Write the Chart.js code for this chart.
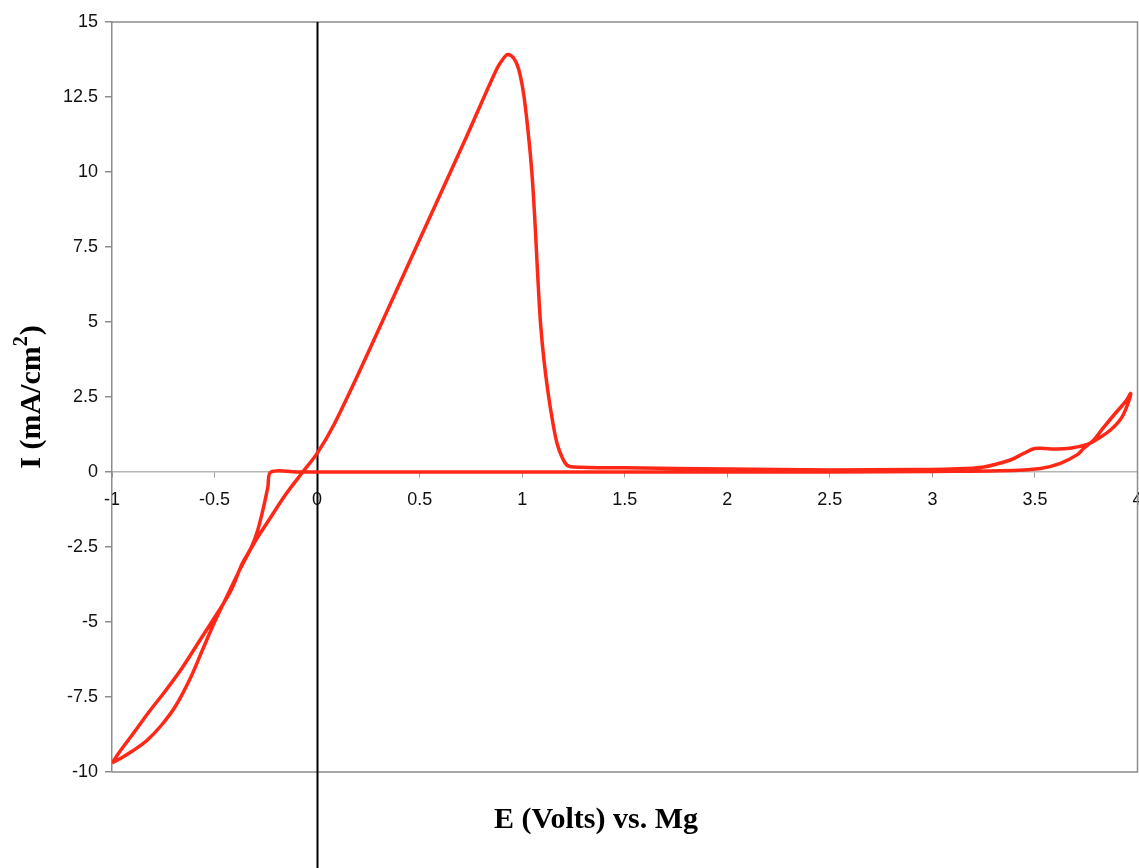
<!DOCTYPE html>
<html>
<head>
<meta charset="utf-8">
<script src="https://cdn.jsdelivr.net/npm/chart.js@4.4.1/dist/chart.umd.min.js"></script>
<style>
  html, body { margin: 0; padding: 0; background: #fff; }
  #wrap { width: 1139px; height: 868px; position: relative; }
</style>
</head>
<body>
<div id="wrap"><canvas id="c" width="1139" height="868"></canvas></div>
<script>
// Potential E (V vs. Mg), in sweep order
const eVolts = [
  -1.0, -0.96, -0.9, -0.83, -0.76, -0.69, -0.62, -0.56, -0.5, -0.44, -0.38, -0.31, -0.23, -0.15, -0.07,
  0.0, 0.08, 0.24, 0.47, 0.73, 0.877, 0.91, 0.93, 0.958, 0.982, 1.007, 1.031, 1.047, 1.06, 1.07,
  1.08, 1.09, 1.105, 1.125, 1.148, 1.17, 1.194, 1.218, 1.25, 1.5, 2.0, 2.5, 2.9, 3.09, 3.25, 3.38, 3.445,
  3.5, 3.58, 3.67, 3.755, 3.80, 3.868, 3.925, 3.962, 3.966, 3.945, 3.885, 3.827, 3.787, 3.738, 3.705,
  3.624, 3.527, 3.33, 3.0, 2.5, 1.5, 0.5, -0.1, -0.225, -0.24, -0.262, -0.29, -0.32, -0.365, -0.42,
  -0.5, -0.58, -0.66, -0.74, -0.82, -0.9, -0.96, -1.0
];
// Current density I (mA/cm^2), same order
const iCurrent = [
  -9.70, -9.55, -9.3, -8.95, -8.45, -7.8, -6.9, -5.95, -5.0, -4.15, -3.3, -2.4, -1.55, -0.72, 0.0,
  0.62, 1.55, 3.85, 7.3, 11.2, 13.45, 13.8, 13.92, 13.8, 13.45, 12.6, 11.2, 10.0, 8.6, 7.3,
  6.0, 4.9, 3.8, 2.7, 1.7, 0.95, 0.5, 0.23, 0.17, 0.14, 0.1, 0.07, 0.08, 0.1, 0.17, 0.4, 0.62,
  0.78, 0.77, 0.79, 0.92, 1.08, 1.4, 1.84, 2.45, 2.62, 2.38, 1.9, 1.42, 1.07, 0.79, 0.57,
  0.29, 0.12, 0.04, 0.02, 0.0, 0.0, 0.0, 0.0, 0.0, -0.5, -1.2, -1.95, -2.5, -3.05, -3.95,
  -4.85, -5.7, -6.55, -7.3, -8.0, -8.75, -9.3, -9.70
];
const xTicks = [-1, -0.5, 0, 0.5, 1, 1.5, 2, 2.5, 3, 3.5, 4];
const yTicks = [15, 12.5, 10, 7.5, 5, 2.5, 0, -2.5, -5, -7.5, -10];
const xTitle = 'E (Volts) vs. Mg';
const yTitleParts = ['I (mA/cm', '2', ')'];

const points = eVolts.map((x, i) => ({ x: x, y: iCurrent[i] }));

const TITLE_FONT = 'bold 30px "Liberation Serif", "Times New Roman", serif';
const SUP_FONT = 'bold 20px "Liberation Serif", "Times New Roman", serif';

const framePlugin = {
  id: 'frame',
  beforeDatasetsDraw(chart) {
    const { ctx, chartArea: a, scales } = chart;
    ctx.save();
    ctx.strokeStyle = '#8c8c8c';
    ctx.lineWidth = 1.5;
    ctx.beginPath();
    ctx.moveTo(a.left, a.top);
    ctx.lineTo(a.right, a.top);
    ctx.lineTo(a.right, a.bottom);
    ctx.lineTo(a.left, a.bottom);
    ctx.stroke();
    // black vertical line at E = 0
    const x0 = Math.round(scales.x.getPixelForValue(0)) + 0.5;
    ctx.strokeStyle = '#000';
    ctx.lineWidth = 2;
    ctx.beginPath();
    ctx.moveTo(x0, a.top);
    ctx.lineTo(x0, chart.height);
    ctx.stroke();
    ctx.restore();
  },
  afterDraw(chart) {
    const { ctx, chartArea: a } = chart;
    ctx.save();
    ctx.fillStyle = '#000';
    ctx.font = TITLE_FONT;
    ctx.textAlign = 'center';
    ctx.textBaseline = 'alphabetic';
    ctx.fillText(xTitle, a.left + (a.right - a.left) * 0.472, 828);
    ctx.restore();

    // y title, rotated, with superscript
    ctx.save();
    ctx.fillStyle = '#000';
    ctx.textBaseline = 'alphabetic';
    ctx.textAlign = 'left';
    ctx.font = TITLE_FONT;
    const w1 = ctx.measureText(yTitleParts[0]).width;
    const w3 = ctx.measureText(yTitleParts[2]).width;
    ctx.font = SUP_FONT;
    const w2 = ctx.measureText(yTitleParts[1]).width;
    const total = w1 + w2 + 1 + w3;
    const cy = (a.top + a.bottom) / 2;
    ctx.translate(40, cy);
    ctx.rotate(-Math.PI / 2);
    let x = -total / 2;
    ctx.font = TITLE_FONT;
    ctx.fillText(yTitleParts[0], x, 0);
    x += w1;
    ctx.font = SUP_FONT;
    ctx.fillText(yTitleParts[1], x, -13);
    x += w2 + 1;
    ctx.font = TITLE_FONT;
    ctx.fillText(yTitleParts[2], x, 0);
    ctx.restore();
  }
};

new Chart(document.getElementById('c'), {
  type: 'scatter',
  data: {
    datasets: [{
      data: points,
      showLine: true,
      borderColor: 'rgb(255,40,22)',
      backgroundColor: 'rgb(255,40,22)',
      borderWidth: 3.5,
      pointRadius: 0,
      tension: 0.35,
      fill: false
    }]
  },
  options: {
    responsive: false,
    animation: false,
    devicePixelRatio: 1,
    layout: { padding: { left: 0, right: 1.5, top: 22, bottom: 96 } },
    plugins: { legend: { display: false }, tooltip: { enabled: false } },
    scales: {
      x: {
        type: 'linear',
        position: { y: 0 },
        min: -1, max: 4,
        afterBuildTicks: s => { s.ticks = xTicks.map(v => ({ value: v })); },
        afterFit: s => { s.paddingLeft = 0; s.paddingRight = 0; },
        grid: { drawOnChartArea: false, drawTicks: true, tickLength: 5, color: '#999', lineWidth: 1 },
        border: { display: true, color: '#b5b5b5', width: 1.5 },
        ticks: {
          padding: 12,
          color: '#111',
          font: { family: '"Liberation Sans", Arial, sans-serif', size: 18 },
          maxRotation: 0,
          callback: v => String(v)
        },
        title: { display: false }
      },
      y: {
        type: 'linear',
        position: 'left',
        min: -10, max: 15,
        afterBuildTicks: s => { s.ticks = yTicks.map(v => ({ value: v })); },
        afterFit: s => { s.width = 112; },
        grid: { drawOnChartArea: false, drawTicks: true, tickLength: 7, color: '#8c8c8c', lineWidth: 1.5 },
        border: { display: true, color: '#8c8c8c', width: 1.5 },
        ticks: {
          padding: 7,
          color: '#111',
          font: { family: '"Liberation Sans", Arial, sans-serif', size: 18 },
          callback: v => String(v)
        },
        title: { display: false }
      }
    }
  },
  plugins: [framePlugin]
});
</script>
</body>
</html>
